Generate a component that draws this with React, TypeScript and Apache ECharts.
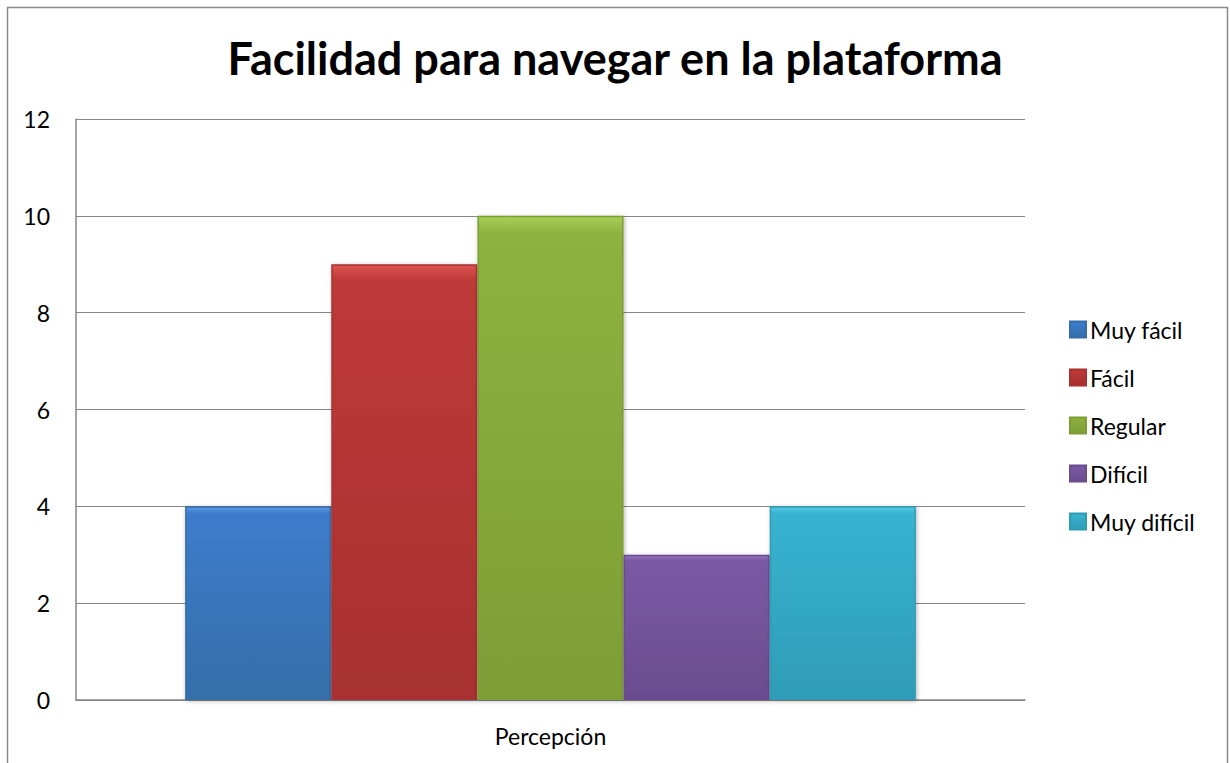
import React, { useEffect, useRef } from "react";
import * as echarts from "echarts";

const title = "Facilidad para navegar en la plataforma";
const categories = ["Percepción"];
const seriesNames = ["Muy fácil", "Fácil", "Regular", "Difícil", "Muy difícil"];
const seriesValues = [4, 9, 10, 3, 4];
const baseColors = ["#3d7ccc", "#bd3a38", "#8db23f", "#7b59a4", "#37b3d0"];
const lightColors = ["#5a98e4", "#dc5352", "#a8d058", "#9575c0", "#55cbe6"];
const darkColors = ["#356ea9", "#a83030", "#7d9e36", "#6a4c8f", "#2f9cb6"];

export default function App() {
  const ref = useRef<HTMLDivElement>(null);
  useEffect(() => {
    const chart = echarts.init(ref.current!, undefined, { renderer: "svg" });
    const font = "Lato, 'Open Sans', sans-serif";
    chart.setOption({
      animation: false,
      backgroundColor: "#ffffff",
      title: {
        text: title,
        left: "center",
        top: 30,
        textStyle: { fontFamily: font, fontWeight: "bold", fontSize: 45, color: "#000" },
      },
      legend: {
        orient: "vertical",
        left: 1069,
        top: 318,
        padding: 0,
        itemGap: 25,
        itemWidth: 16,
        itemHeight: 16,
        icon: "rect",
        textStyle: { fontFamily: font, fontSize: 23, color: "#000", padding: [0, 0, 0, -1] },
        data: seriesNames,
      },
      grid: { left: 76, top: 119, right: 205, bottom: 63 },
      xAxis: {
        type: "category",
        data: categories,
        axisLine: { show: true, lineStyle: { color: "#868686", width: 1.5 } },
        axisTick: { show: false },
        axisLabel: { fontFamily: font, fontSize: 23, color: "#000", margin: 24 },
      },
      yAxis: {
        type: "value",
        min: 0,
        max: 12,
        interval: 2,
        axisLine: { show: true, lineStyle: { color: "#868686", width: 1.5 } },
        axisTick: { show: false },
        splitLine: { lineStyle: { color: "#868686", width: 1 } },
        axisLabel: { fontFamily: font, fontSize: 23, color: "#000", margin: 26 },
      },
      graphic: [
        {
          type: "rect",
          shape: { x: 7.5, y: 7.5, width: 1220, height: 770 },
          style: { fill: "none", stroke: "#8a8a8a", lineWidth: 1.5 },
          silent: true,
        },
      ],
      series: seriesNames.map((name, i) => ({
        name,
        type: "bar",
        data: [seriesValues[i]],
        barGap: "0%",
        barCategoryGap: "23%",
        itemStyle: {
          color: new echarts.graphic.LinearGradient(0, 0, 0, 1, [
            { offset: 0, color: lightColors[i] },
            { offset: 0.035, color: baseColors[i] },
            { offset: 1, color: darkColors[i] },
          ]),
          borderColor: darkColors[i],
          borderWidth: 1.5,
          shadowColor: "rgba(0,0,0,0.3)",
          shadowBlur: 4,
          shadowOffsetX: 1,
          shadowOffsetY: 1,
        },
      })),
    });
    return () => chart.dispose();
  }, []);
  return (
    <div
      ref={ref}
      style={{ position: "absolute", left: 0, top: 0, width: 1230, height: 763 }}
    />
  );
}
